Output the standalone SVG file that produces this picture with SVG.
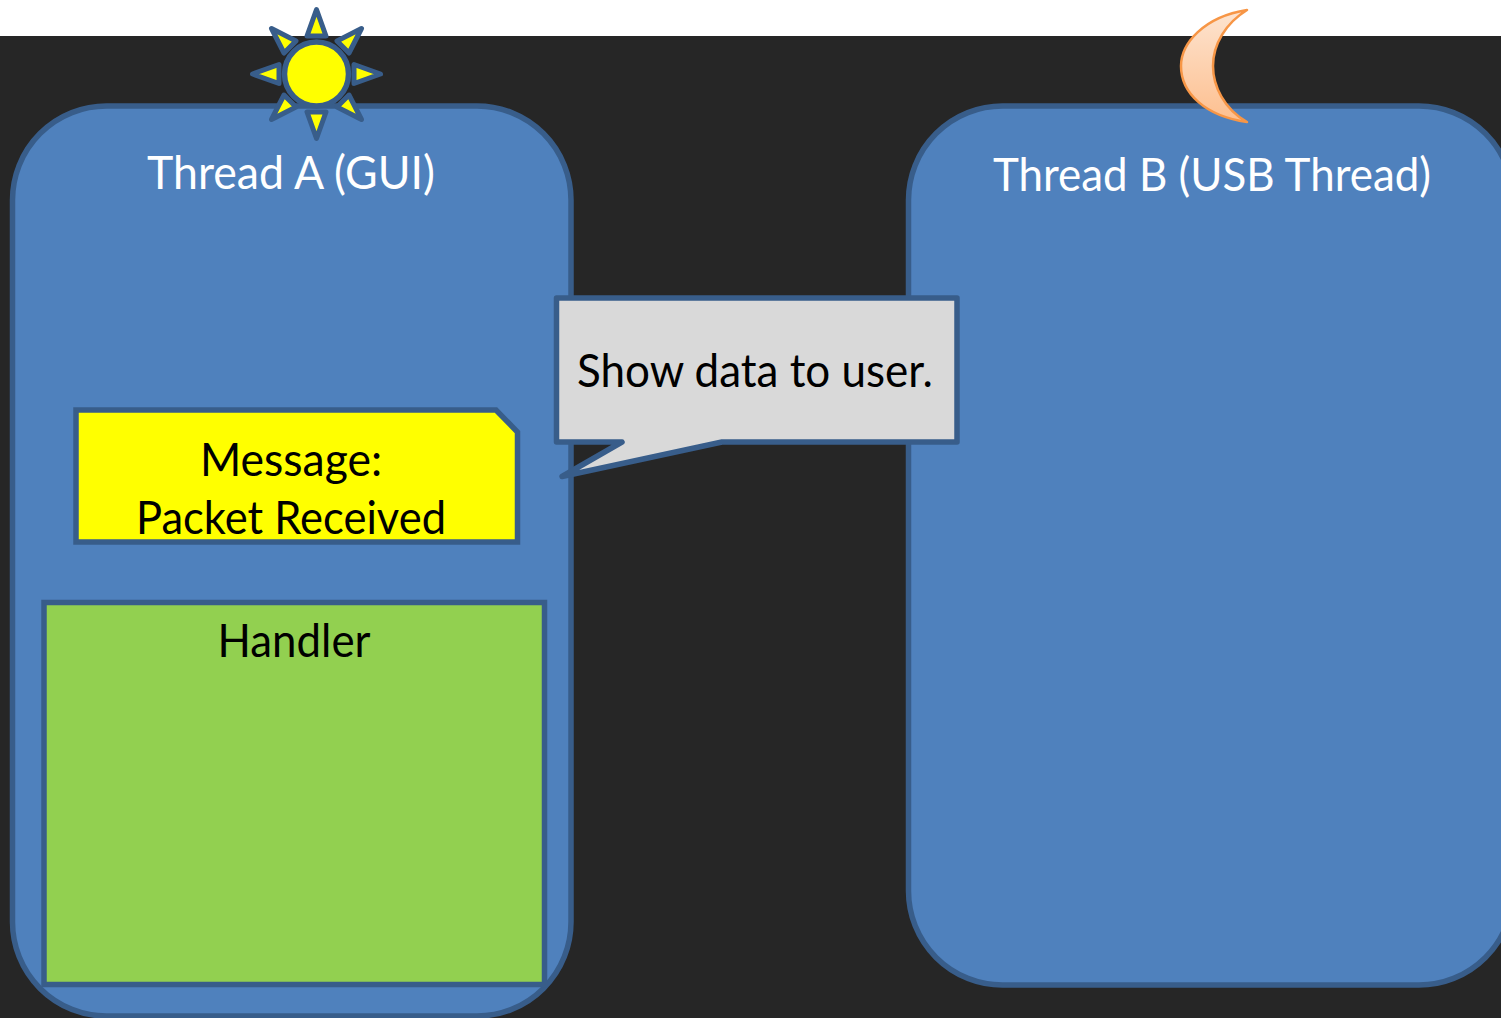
<svg xmlns="http://www.w3.org/2000/svg" width="1501" height="1018" viewBox="0 0 1501 1018">
<defs>
<linearGradient id="moonFill" x1="0" y1="0" x2="0" y2="1"><stop offset="0" stop-color="#fde4d0"/><stop offset="1" stop-color="#fdbf8f"/></linearGradient>
</defs>
<style>
.s{stroke:#385d8a;stroke-width:5.500;stroke-linejoin:miter}
.t{font-family:"Lato","Open Sans","Liberation Sans",sans-serif;font-size:46px;text-anchor:middle}
.w{fill:#fff}.k{fill:#000}
.ray{fill:#ff0;stroke:#385d8a;stroke-width:5;stroke-linejoin:round}
</style>
<rect x="0" y="0" width="1501" height="1018" fill="#fff"/>
<rect x="0" y="36" width="1501" height="982" fill="#262626"/>
<g id="thread-a">
<rect class="s" x="12.500" y="106" width="558.500" height="910" rx="94" ry="94" fill="#4f81bd"/>
<text class="t w" x="291" y="189" textLength="288" lengthAdjust="spacingAndGlyphs">Thread A (GUI)</text>
</g>
<g id="thread-b">
<rect class="s" x="908.500" y="106" width="604.500" height="879" rx="94" ry="94" fill="#4f81bd"/>
<text class="t w" x="1212" y="191" textLength="438" lengthAdjust="spacingAndGlyphs">Thread B (USB Thread)</text>
</g>
<g id="sun">
<circle cx="316.500" cy="74" r="32" fill="#ff0" stroke="#385d8a" stroke-width="5.500"/>
<path class="ray" d="M316.500 9.500L326 36H307Z"/>
<path class="ray" d="M316.500 138.500L307 112H326Z"/>
<path class="ray" d="M252.500 74L279 64.500V83.500Z"/>
<path class="ray" d="M380.500 74L354 64.500V83.500Z"/>
<path class="ray" d="M271.500 28.500L296 41L284 53Z"/>
<path class="ray" d="M361.500 28.500L337 41L349 53Z"/>
<path class="ray" d="M271.500 119.500L284 95L296 107Z"/>
<path class="ray" d="M361.500 119.500L349 95L337 107Z"/>
</g>
<g id="moon">
<path d="M1247 10C1203 17 1181 44 1181 66C1181 93 1205 116 1247 122C1224 109 1213 86 1213 66C1213 44 1226 23 1247 10Z" fill="url(#moonFill)" stroke="#f79646" stroke-width="2.500" stroke-linejoin="round"/>
</g>
<g id="message">
<path class="s" d="M76 410H496L517.500 432V542H76Z" fill="#ff0"/>
<text class="t k" x="291" y="476" textLength="182" lengthAdjust="spacingAndGlyphs">Message:</text>
<text class="t k" x="291" y="534" textLength="310" lengthAdjust="spacingAndGlyphs">Packet Received</text>
</g>
<g id="handler">
<rect class="s" x="44" y="602.500" width="500.500" height="382" fill="#92d050"/>
<text class="t k" x="294" y="657" textLength="153" lengthAdjust="spacingAndGlyphs">Handler</text>
</g>
<g id="callout">
<path class="s" d="M556.500 298H957V442H722L562 476.500L622 442H556.500Z" fill="#d9d9d9" style="stroke-linejoin:round"/>
<text class="t k" x="755" y="387" textLength="356" lengthAdjust="spacingAndGlyphs">Show data to user.</text>
</g>
<g id="connectors"/>
</svg>
